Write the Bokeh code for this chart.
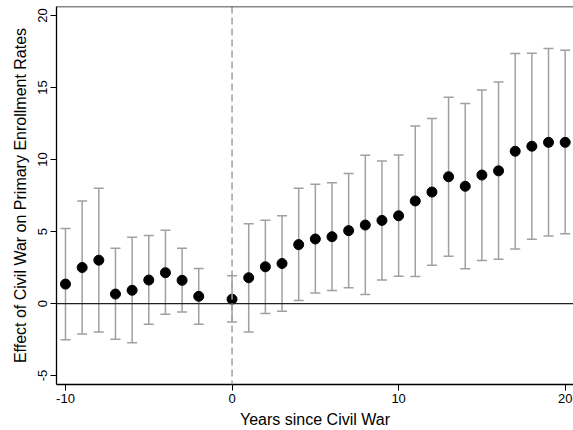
from bokeh.plotting import figure
from bokeh.models import ColumnDataSource, Whisker, TeeHead, Span, FixedTicker, Range1d
from bokeh.embed import file_html
from bokeh.resources import INLINE

years = [-10, -9, -8, -7, -6, -5, -4, -3, -2, 0, 1, 2, 3, 4, 5, 6, 7, 8, 9, 10,
         11, 12, 13, 14, 15, 16, 17, 18, 19, 20]
effect = [1.35, 2.50, 3.01, 0.66, 0.92, 1.63, 2.14, 1.61, 0.50, 0.30, 1.79, 2.55, 2.78, 4.09, 4.48, 4.64, 5.06, 5.45, 5.77, 6.09,
          7.12, 7.74, 8.80, 8.14, 8.92, 9.21, 10.57, 10.92, 11.19, 11.19]
ci_upper = [5.21, 7.12, 8.00, 3.83, 4.60, 4.73, 5.08, 3.83, 2.43, 1.93, 5.54, 5.79, 6.09, 8.00, 8.28, 8.39, 9.03, 10.30, 9.90, 10.32,
            12.32, 12.85, 14.32, 13.88, 14.83, 15.38, 17.35, 17.38, 17.70, 17.59]
ci_lower = [-2.51, -2.12, -1.98, -2.48, -2.72, -1.43, -0.74, -0.58, -1.43, -1.29, -1.98, -0.69, -0.53, 0.21, 0.73, 0.90, 1.10, 0.62, 1.63, 1.90,
            1.88, 2.66, 3.28, 2.41, 2.99, 3.08, 3.79, 4.46, 4.69, 4.85]
x_ticks = [-10, 0, 10, 20]
y_ticks = [-5, 0, 5, 10, 15, 20]
x_label = "Years since Civil War"
y_label = "Effect of Civil War on Primary Enrollment Rates"

src = ColumnDataSource(dict(x=years, y=effect, lo=ci_lower, hi=ci_upper))

FONT = "Liberation Sans"
p = figure(width=573, height=430, output_backend="svg", toolbar_location=None,
           x_range=Range1d(-10.54, 20.5), y_range=Range1d(-5.62, 20.62),
           min_border_left=56, min_border_right=0, min_border_top=6, min_border_bottom=44)
p.background_fill_color = "white"
p.border_fill_color = "white"
p.outline_line_color = None
p.grid.visible = False

cap_color = "#a0a0a0"
wh = Whisker(source=src, base="x", upper="hi", lower="lo",
             line_color=cap_color, line_width=1.5,
             upper_head=TeeHead(size=10, line_color=cap_color, line_width=1.5),
             lower_head=TeeHead(size=10, line_color=cap_color, line_width=1.5))
p.add_layout(wh)

p.add_layout(Span(location=0, dimension="width", line_color="#222222", line_width=1.2))
p.add_layout(Span(location=0, dimension="height", line_color="#a0a0a0", line_width=1.5, line_dash="7 4"))
p.add_layout(Span(location=20.62, dimension="width", line_color="#111111", line_width=1.5))

p.scatter("x", "y", source=src, size=10, color="black")

for ax in (p.xaxis[0], p.yaxis[0]):
    ax.axis_line_color = "black"
    ax.axis_line_width = 1.3
    ax.major_tick_line_color = "black"
    ax.major_tick_out = 6
    ax.major_tick_in = 0
    ax.minor_tick_line_color = None
    ax.major_label_text_font = FONT
    ax.major_label_text_font_size = "13px"
    ax.major_label_text_color = "black"
    ax.axis_label_text_font = FONT
    ax.axis_label_text_font_size = "16px"
    ax.axis_label_text_font_style = "normal"
    ax.axis_label_text_color = "black"

p.xaxis.ticker = FixedTicker(ticks=x_ticks)
p.yaxis.ticker = FixedTicker(ticks=y_ticks)
p.xaxis.major_label_overrides = {t: str(t) for t in x_ticks}
p.yaxis.major_label_overrides = {t: str(t) for t in y_ticks}
p.xaxis.axis_label = x_label
p.yaxis.axis_label = y_label
p.yaxis.major_label_orientation = "vertical"
p.xaxis.major_label_standoff = 3
p.yaxis.major_label_standoff = 3
p.xaxis.axis_label_standoff = 5
p.yaxis.axis_label_standoff = 7

open("out.html", "w").write(file_html(p, INLINE))
